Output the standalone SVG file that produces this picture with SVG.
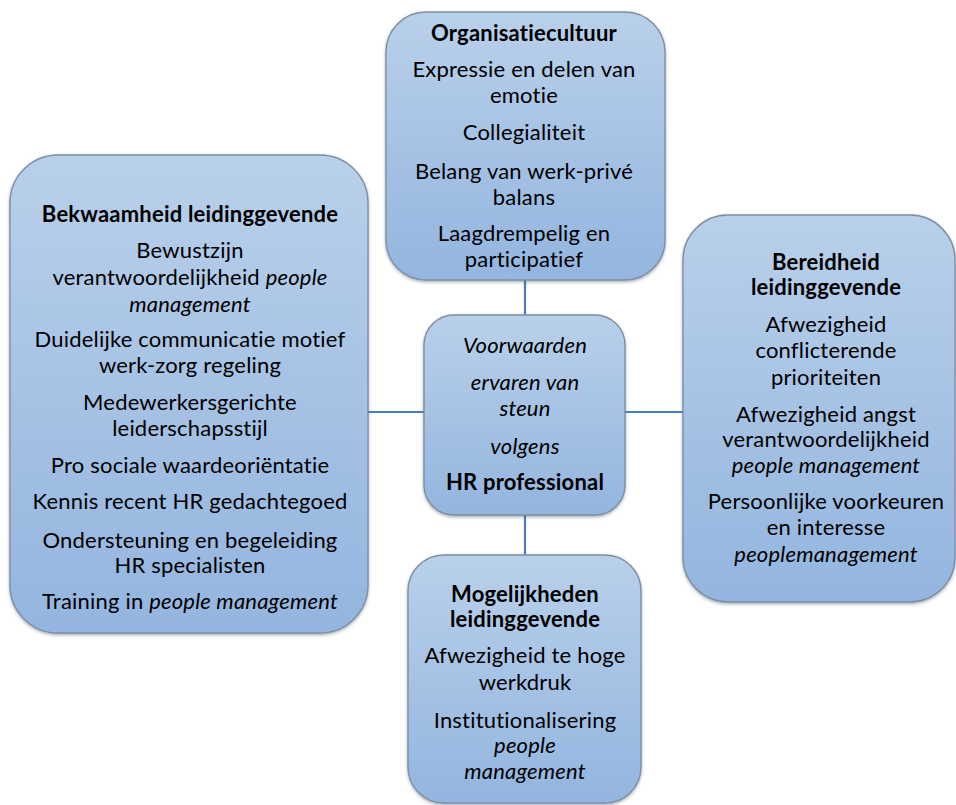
<svg xmlns="http://www.w3.org/2000/svg" width="956" height="805" viewBox="0 0 956 805">
  <defs>
    <linearGradient id="boxFill" x1="0" y1="0" x2="0" y2="1">
      <stop offset="0" stop-color="#b9d0ea"/>
      <stop offset="1" stop-color="#93b5df"/>
    </linearGradient>
    <filter id="soft" x="-5%" y="-5%" width="110%" height="110%">
      <feDropShadow dx="0" dy="1.5" stdDeviation="1.5" flood-color="#3a4a60" flood-opacity="0.45"/>
    </filter>
  </defs>
  <style>
    .box { fill: url(#boxFill); stroke: #7f8fa3; stroke-width: 1.4; filter: url(#soft); }
    .link { stroke: #4a7ebb; stroke-width: 2.2; fill: none; }
    text { font-family: Lato, "Liberation Sans", sans-serif; font-size: 22px; letter-spacing: 0.2px; fill: #000; text-anchor: middle; }
    .b { font-weight: bold; }
    .i { font-style: italic; }
  </style>

  <!-- connectors between the centre box and the four factor boxes -->
  <g id="connectors">
    <line class="link" x1="525" y1="280" x2="525" y2="316"/>
    <line class="link" x1="525" y1="515" x2="525" y2="556"/>
    <line class="link" x1="368" y1="412" x2="425" y2="412"/>
    <line class="link" x1="625" y1="412" x2="684" y2="412"/>
  </g>

  <g id="organisatiecultuur">
    <rect class="box" x="386" y="12" width="279" height="268" rx="40" ry="40"/>
    <text class="b" x="524" y="41">Organisatiecultuur</text>
    <text x="524" y="77">Expressie en delen van</text>
    <text x="524" y="103">emotie</text>
    <text x="524" y="140">Collegialiteit</text>
    <text x="524" y="179">Belang van werk-privé</text>
    <text x="524" y="205">balans</text>
    <text x="524" y="241">Laagdrempelig en</text>
    <text x="524" y="267">participatief</text>
  </g>

  <g id="centrum">
    <rect class="box" x="424" y="315" width="201" height="200" rx="30" ry="30"/>
    <text class="i" x="525" y="353">Voorwaarden</text>
    <text class="i" x="525" y="390">ervaren van</text>
    <text class="i" x="525" y="416">steun</text>
    <text class="i" x="525" y="454">volgens</text>
    <text class="b" x="525" y="490">HR professional</text>
  </g>

  <g id="bekwaamheid">
    <rect class="box" x="10" y="155" width="358" height="478" rx="48" ry="48"/>
    <text class="b" x="190" y="222">Bekwaamheid leidinggevende</text>
    <text x="190" y="258">Bewustzijn</text>
    <text x="190" y="285">verantwoordelijkheid <tspan class="i">people</tspan></text>
    <text class="i" x="190" y="312">management</text>
    <text x="190" y="347">Duidelijke communicatie motief</text>
    <text x="190" y="373">werk-zorg regeling</text>
    <text x="190" y="410">Medewerkersgerichte</text>
    <text x="190" y="436">leiderschapsstijl</text>
    <text x="190" y="473">Pro sociale waardeoriëntatie</text>
    <text x="190" y="509">Kennis recent HR gedachtegoed</text>
    <text x="190" y="548">Ondersteuning en begeleiding</text>
    <text x="190" y="573">HR specialisten</text>
    <text x="190" y="609">Training in <tspan class="i">people management</tspan></text>
  </g>

  <g id="bereidheid">
    <rect class="box" x="683" y="215" width="272" height="387" rx="45" ry="45"/>
    <text class="b" x="826" y="270">Bereidheid</text>
    <text class="b" x="826" y="295">leidinggevende</text>
    <text x="826" y="332">Afwezigheid</text>
    <text x="826" y="358">conflicterende</text>
    <text x="826" y="385">prioriteiten</text>
    <text x="826" y="422">Afwezigheid angst</text>
    <text x="826" y="447">verantwoordelijkheid</text>
    <text class="i" x="826" y="473">people management</text>
    <text x="826" y="509">Persoonlijke voorkeuren</text>
    <text x="826" y="535">en interesse</text>
    <text class="i" x="826" y="562">peoplemanagement</text>
  </g>

  <g id="mogelijkheden">
    <rect class="box" x="408" y="555" width="233" height="248" rx="36" ry="36"/>
    <text class="b" x="525" y="602">Mogelijkheden</text>
    <text class="b" x="525" y="627">leidinggevende</text>
    <text x="525" y="663">Afwezigheid te hoge</text>
    <text x="525" y="690">werkdruk</text>
    <text x="525" y="728">Institutionalisering</text>
    <text class="i" x="525" y="753">people</text>
    <text class="i" x="525" y="779">management</text>
  </g>
</svg>
